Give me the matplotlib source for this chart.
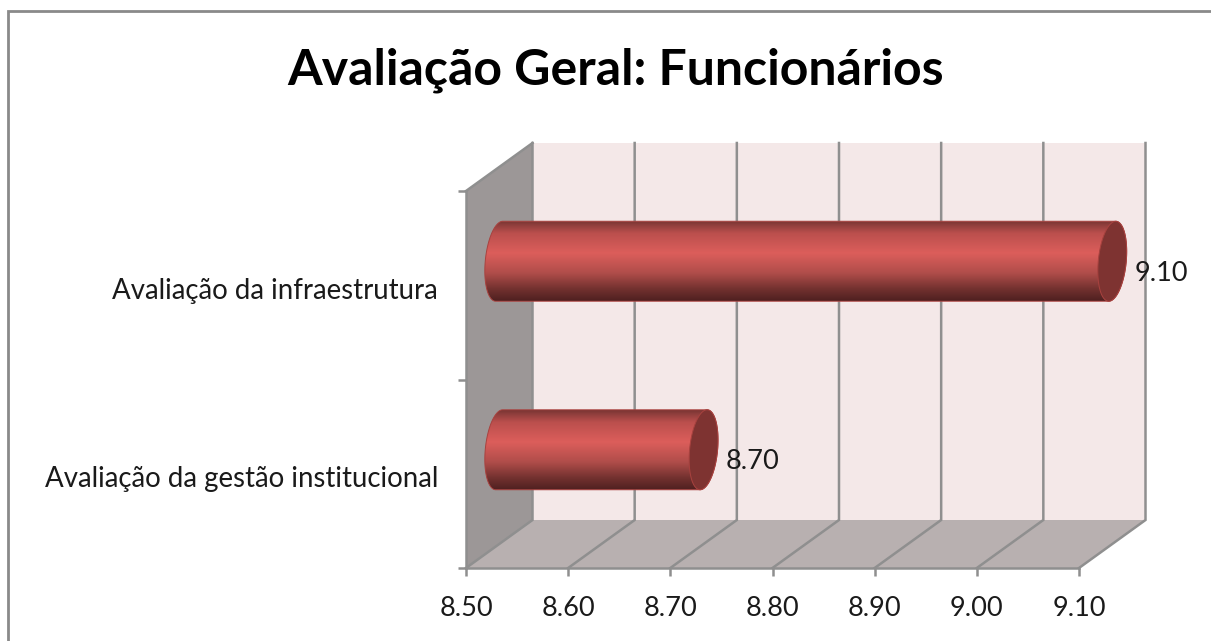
import numpy as np
import matplotlib
matplotlib.use("Agg")
import matplotlib.pyplot as plt
from matplotlib.colors import LinearSegmentedColormap
from matplotlib.patches import Polygon, Rectangle
from matplotlib.path import Path
from matplotlib.transforms import ScaledTranslation

categories = ["Avaliação da gestão institucional", "Avaliação da infraestrutura"]
values = [8.70, 9.10]
x_ticks = [8.50, 8.60, 8.70, 8.80, 8.90, 9.00, 9.10]
title = "Avaliação Geral: Funcionários"

W, H = 1211, 641
plt.rcParams["font.family"] = ["Lato", "DejaVu Sans"]
fig = plt.figure(figsize=(W / 100, H / 100), dpi=100, facecolor="white")

# picture frame: only its top and left edges lie inside the crop
fig.add_artist(Rectangle((7.5 / W, -0.05), 1.05, 1.05 - 11 / H,
                         transform=fig.transFigure, fill=False,
                         edgecolor="#8a8a8a", linewidth=2))

ax = fig.add_axes([466 / W, (H - 568) / H, 613 / W, 377 / H])
XMIN, XMAX = x_ticks[0], x_ticks[-1]
YMIN, YMAX = -0.5, 1.5
ax.patch.set_visible(False)

px_x = (XMAX - XMIN) / 613
px_y = (YMAX - YMIN) / 377
DX, DY = 66.5 * px_x, 48 * px_y
GRID = "#8f8f8f"
LW = 1.8

# back wall, side wall, floor
ax.add_patch(Rectangle((XMIN + DX, YMIN + DY), XMAX - XMIN, YMAX - YMIN,
                       facecolor="#f4e8e8", edgecolor="none", zorder=1, clip_on=False))
ax.add_patch(Polygon([(XMIN, YMIN), (XMIN + DX, YMIN + DY), (XMIN + DX, YMAX + DY), (XMIN, YMAX)],
                     facecolor="#9c9797", edgecolor="none", zorder=1, clip_on=False))
ax.add_patch(Polygon([(XMIN, YMIN), (XMAX, YMIN), (XMAX + DX, YMIN + DY), (XMIN + DX, YMIN + DY)],
                     facecolor="#b8b0b0", edgecolor="none", zorder=1, clip_on=False))
for t in x_ticks:
    ax.plot([t, t + DX, t + DX], [YMIN, YMIN + DY, YMAX + DY], color=GRID, lw=LW,
            zorder=2, clip_on=False, solid_joinstyle="miter")
ax.plot([XMIN, XMIN + DX], [YMAX, YMAX + DY], color=GRID, lw=LW, zorder=2, clip_on=False)

# cylinders
stops = [(0, "#7a3634"), (.15, "#bb4f4d"), (.4, "#dc5e5b"), (.65, "#b04d4a"), (.85, "#72312f"), (1, "#4f2020")]
cmap = LinearSegmentedColormap.from_list("cyl", stops, N=256)
gradient = np.linspace(0, 1, 256).reshape(-1, 1)
bar_h = 80 * px_y
rx, shear = 14 * px_x, 3.5 * px_x
tt = np.linspace(0, 2 * np.pi, 121)


def cap(x, y, t):
    return np.column_stack([x + rx * np.cos(t) + shear * np.sin(t), y + bar_h / 2 * np.sin(t)])


for i, v in enumerate(values):
    yc = i + DY / 2
    x0, x1 = XMIN + DX / 2, v + DX / 2
    right = cap(x1, yc, np.linspace(np.pi / 2, -np.pi / 2, 60))
    left = cap(x0, yc, np.linspace(-np.pi / 2, -3 * np.pi / 2, 60))
    outline = np.vstack([right, left, right[:1]])
    im = ax.imshow(gradient, cmap=cmap, vmin=0, vmax=1, aspect="auto", origin="upper",
                   extent=(x0 - 3 * rx, x1 + 3 * rx, yc - bar_h / 2, yc + bar_h / 2), zorder=3)
    im.set_clip_box(fig.bbox)
    im.set_clip_path(Path(outline), ax.transData)
    ax.add_patch(Polygon(outline, closed=True, fill=False, edgecolor="#a8423f", lw=0.7, zorder=4, clip_on=False))
    ax.add_patch(Polygon(cap(x1, yc, tt), closed=True, facecolor="#7e3331", edgecolor="#a8423f",
                         lw=0.7, zorder=5, clip_on=False))
    ax.annotate(f"{v:.2f}", (x1, yc), xytext=(22, -12), textcoords="offset pixels",
                ha="left", va="center", fontsize=19.5, color="#1a1a1a", zorder=6, annotation_clip=False)

ax.set_xlim(XMIN, XMAX)
ax.set_ylim(YMIN, YMAX)

for s in ("top", "right"):
    ax.spines[s].set_visible(False)
for s in ("left", "bottom"):
    ax.spines[s].set_color(GRID)
    ax.spines[s].set_linewidth(LW)
    ax.spines[s].set_zorder(2.5)

ax.set_xticks(x_ticks)
ax.set_xticklabels([f"{t:.2f}" for t in x_ticks], fontsize=19.5, color="#1a1a1a")
ax.tick_params(axis="x", length=5.8, width=LW, color=GRID, pad=14.5)
ax.set_yticks([-0.5, 0.5, 1.5])
ax.set_yticklabels(["", "", ""])
ax.tick_params(axis="y", which="major", length=5.8, width=LW, color=GRID)
ax.set_yticks([0, 1], minor=True)
ax.set_yticklabels(categories, minor=True, fontsize=19.9, color="#1a1a1a")
ax.tick_params(axis="y", which="minor", length=0, pad=20)
shift = ScaledTranslation(0, -3 / 100, fig.dpi_scale_trans)
for lab in ax.get_yticklabels(minor=True):
    lab.set_transform(lab.get_transform() + shift)

fig.text(616 / W, (H - 70) / H, title, ha="center", va="center",
         fontsize=36, fontweight="bold", color="black")

fig.savefig("out.png", dpi=100)
